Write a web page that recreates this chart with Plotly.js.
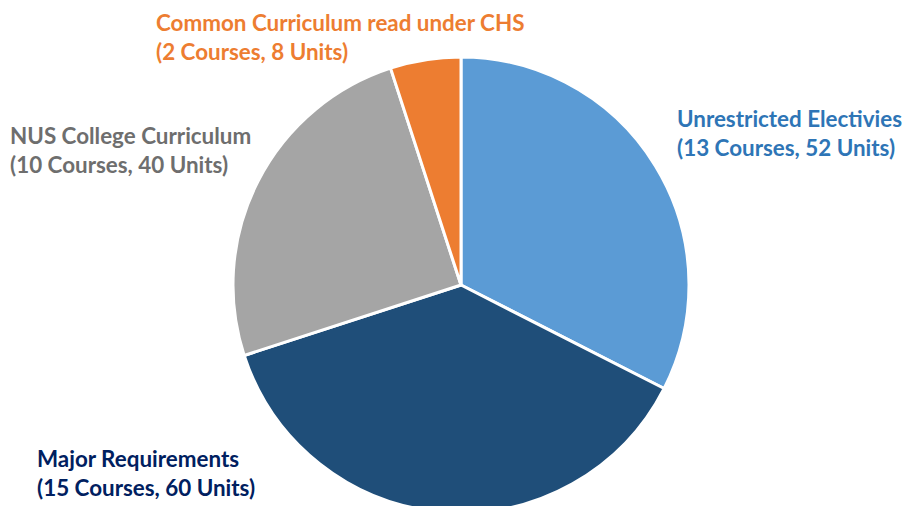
<!DOCTYPE html>
<html>
<head>
<meta charset="utf-8">
<script src="https://cdn.plot.ly/plotly-3.0.1.min.js"></script>
<style>
html,body{margin:0;padding:0;overflow:hidden;background:#fff;}
#chart{width:903px;height:520px;}
</style>
</head>
<body>
<div id="chart"></div>
<script>
const categories = ["Unrestricted Electivies", "Major Requirements", "NUS College Curriculum", "Common Curriculum read under CHS"];
const courses = [13, 15, 10, 2];
const units = [52, 60, 40, 8];
const sliceColors = ["#5B9BD5", "#1F4E79", "#A5A5A5", "#ED7D31"];
const labelColors = ["#2E75B6", "#002060", "#6E6E6E", "#ED7D31"];

const W = 903, H = 520;
// label anchor positions (px from top-left)
const labelPos = [
  {x: 675, y: 133},
  {x: 35, y: 473},
  {x: 8, y: 150},
  {x: 154, y: 37}
];

const annotations = categories.map((c, i) => ({
  xref: "paper", yref: "paper",
  x: labelPos[i].x / W, y: (H - labelPos[i].y) / H,
  xanchor: "left", yanchor: "middle", align: "left",
  showarrow: false,
  text: "<b>" + c + "<br>(" + courses[i] + " Courses, " + units[i] + " Units)</b>",
  font: {family: "Lato, 'Open Sans', sans-serif", size: 22.4, color: labelColors[i]}
}));

const cx = 461, cy = 285, r = 228;
Plotly.newPlot("chart", [{
  type: "pie",
  values: units,
  labels: categories,
  sort: false,
  direction: "clockwise",
  rotation: 0,
  textinfo: "none",
  hoverinfo: "label+value",
  marker: {colors: sliceColors, line: {color: "#ffffff", width: 3}},
  domain: {x: [(cx - r) / W, (cx + r) / W], y: [(H - cy - r) / H, (H - cy + r) / H]},
  showlegend: false
}], {
  width: W, height: H,
  margin: {l: 0, r: 0, t: 0, b: 0},
  paper_bgcolor: "#ffffff",
  showlegend: false,
  annotations: annotations
}, {displayModeBar: false, staticPlot: true});
</script>
</body>
</html>
